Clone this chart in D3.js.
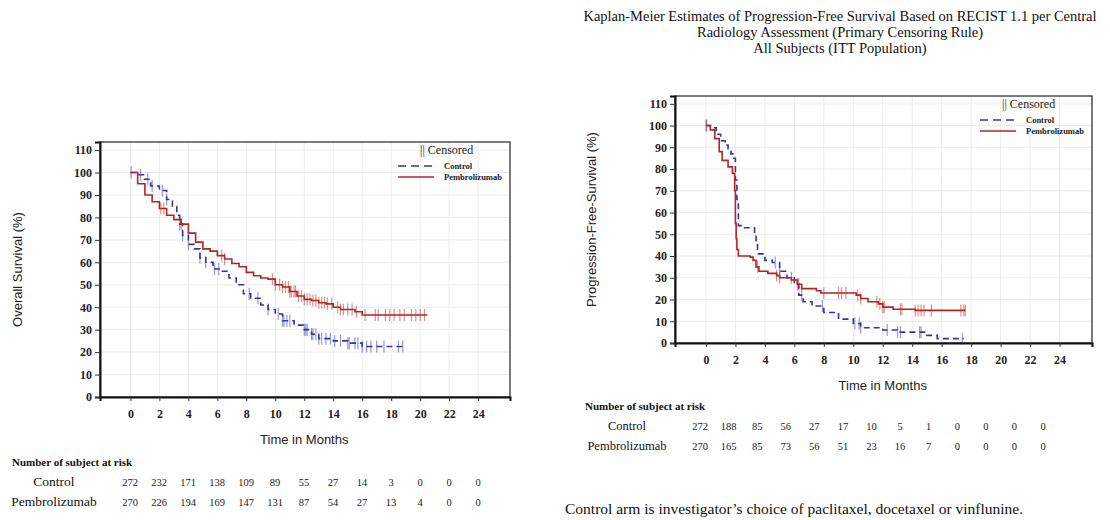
<!DOCTYPE html>
<html>
<head>
<meta charset="utf-8">
<script src="https://cdn.jsdelivr.net/npm/d3@7"></script>
<style>
  body { margin: 0; background: #fff; }
  svg { display: block; }
</style>
</head>
<body>
<div id="chart"></div>
<script>
// month ticks + at-risk labels
const monthTicks = [0, 2, 4, 6, 8, 10, 12, 14, 16, 18, 20, 22, 24];
const survTicks = [0, 10, 20, 30, 40, 50, 60, 70, 80, 90, 100, 110];
const arms = ["Control", "Pembrolizumab"];

// Overall survival (left) - [month, %]
const osControl = [[0,100],[0.4,99],[0.9,97],[1.4,94],[2.0,92],[2.5,88],[2.9,85],[3.2,81],[3.4,77],[3.6,72],[4.0,68],[4.4,66],[4.8,62],[5.2,60],[5.7,57],[6.2,56],[6.8,53],[7.3,50],[7.8,46],[8.3,44],[9.0,41],[9.5,39],[10.0,37],[10.5,34],[11.3,32],[12.0,30],[12.5,28],[13.0,26],[14.0,25],[15.0,24],[16.0,22.5],[18.8,22.5]];
const osPembro = [[0,100],[0.5,95],[1.0,90],[1.5,87],[2.0,84],[2.5,81],[3.0,79],[3.5,77],[4.0,73],[4.5,69],[5.0,66],[5.5,65],[6.0,63],[6.5,61.5],[7.0,59.5],[7.5,58],[8.0,55.5],[8.5,54],[9.0,53],[9.5,52.5],[10.0,50],[10.5,49],[11.0,47],[11.5,45],[12.0,43.5],[12.5,43],[13.0,42],[13.5,41.5],[14.0,40],[14.5,39],[15.5,38],[16.0,36.5],[20.5,36.5]];
const osControlCens = [0.05,0.7,1.2,1.5,2.2,2.5,3.4,3.6,4.0,4.8,5.2,5.8,6.1,8.2,8.8,9.5,10.2,10.5,10.6,10.8,11.0,12.0,12.1,12.2,12.5,12.6,12.8,13.0,13.2,13.5,13.8,14.1,14.5,15.0,15.1,15.5,15.7,16.0,16.3,16.6,17.0,17.5,18.5,18.8];
const osPembroCens = [2.1,2.3,3.5,6.3,6.5,9.8,10.0,10.3,10.5,10.7,10.9,11.0,11.1,11.3,11.4,11.6,11.8,12.0,12.2,12.4,12.6,12.8,13.0,13.2,13.4,13.6,13.9,14.3,14.5,14.7,15.0,15.3,15.6,16.2,16.9,17.1,17.6,17.9,18.2,18.6,18.9,19.4,19.7,20.0,20.3];
const osRiskControl = [272, 232, 171, 138, 109, 89, 55, 27, 14, 3, 0, 0, 0];
const osRiskPembro = [270, 226, 194, 169, 147, 131, 87, 54, 27, 13, 4, 0, 0];

// Progression-free survival (right)
const pfsControl = [[0,100],[0.3,99],[0.7,96],[1.0,93],[1.3,91],[1.5,89],[1.7,87],[1.9,85],[2.0,75],[2.1,66],[2.2,54],[2.5,53],[3.3,50],[3.4,46],[3.5,41],[4.0,38],[4.5,37],[5.0,33],[5.5,30],[6.0,27],[6.3,22],[6.6,19],[7.2,17],[8.0,14],[9.0,11],[10.0,9],[10.5,7],[12.0,6],[13.0,5],[15.0,3.5],[15.7,2],[17.5,2]];
const pfsPembro = [[0,100],[0.3,98],[0.6,94],[0.9,88],[1.1,84],[1.5,81],[1.8,78],[1.95,70],[2.0,55],[2.05,48],[2.1,43],[2.2,40],[3.0,39.5],[3.2,38],[3.4,35],[3.6,33],[4.2,32],[4.8,31],[5.0,30],[5.8,29],[6.2,27],[6.5,25],[7.5,24],[7.8,23],[10.2,22],[10.5,20.5],[11.0,19],[11.7,18],[12.0,16.5],[12.7,15.5],[14.2,15],[17.6,15]];
const pfsControlCens = [0.05,4.7,5.0,5.8,6.5,7.9,10.1,10.4,10.5,12.3,13.0,13.2,14.5,14.6,17.4];
const pfsPembroCens = [0.0,3.5,4.8,5.0,6.2,6.3,8.0,9.0,9.2,9.5,10.3,10.5,11.6,11.8,12.0,12.1,13.2,13.3,14.2,14.4,14.6,14.8,15.3,17.3,17.5,17.6];
const pfsRiskControl = [272, 188, 85, 56, 27, 17, 10, 5, 1, 0, 0, 0, 0];
const pfsRiskPembro = [270, 165, 85, 73, 56, 51, 23, 16, 7, 0, 0, 0, 0];

const titleLines = [
  "Kaplan-Meier Estimates of Progression-Free Survival Based on RECIST 1.1 per Central",
  "Radiology Assessment (Primary Censoring Rule)",
  "All Subjects (ITT Population)"
];
const footnote = "Control arm is investigator\u2019s choice of paclitaxel, docetaxel or vinflunine.";

const blue = "#3434a6";
const red = "#b32424";
const serif = "'Liberation Serif', 'Times New Roman', serif";
const sans = "'Liberation Sans', Arial, sans-serif";

const svg = d3.select("#chart")
  .append("svg")
  .attr("width", 1110)
  .attr("height", 520);

function survAt(points, t) {
  let s = points[0][1];
  for (const p of points) if (p[0] <= t) s = p[1];
  return s;
}

function drawPanel(o) {
  const x = d3.scaleLinear().domain([-2.1, 26.2]).range([o.left, o.right]);
  const y = d3.scaleLinear().domain([0, 113.6]).range([o.bottom, o.top]);
  const g = svg.append("g");

  // grid
  g.selectAll(".gx").data(monthTicks).enter().append("line")
    .attr("x1", d => x(d)).attr("x2", d => x(d))
    .attr("y1", o.top).attr("y2", o.bottom)
    .attr("stroke", "#ececec");
  g.selectAll(".gy").data(survTicks).enter().append("line")
    .attr("x1", o.left).attr("x2", o.right)
    .attr("y1", d => y(d)).attr("y2", d => y(d))
    .attr("stroke", "#ececec");

  // frame
  g.append("rect")
    .attr("x", o.left).attr("y", o.top)
    .attr("width", o.right - o.left).attr("height", o.bottom - o.top)
    .attr("fill", "none").attr("stroke", "#333").attr("stroke-width", 1.3);

  const xAxis = g.append("g")
    .attr("transform", `translate(0,${o.bottom})`)
    .call(d3.axisBottom(x).tickValues(monthTicks).tickSize(4).tickPadding(8));
  const yAxis = g.append("g")
    .attr("transform", `translate(${o.left},0)`)
    .call(d3.axisLeft(y).tickValues(survTicks).tickSize(5).tickPadding(3));
  [xAxis, yAxis].forEach(a => {
    a.select(".domain").attr("stroke", "#111").attr("stroke-width", 2);
    a.selectAll(".tick line").attr("stroke", "#333");
    a.selectAll("text")
      .attr("font-family", serif).attr("font-size", 12)
      .attr("font-weight", "bold").attr("fill", "#222");
  });

  // axis titles
  g.append("text")
    .attr("x", x(12)).attr("y", o.bottom + 47)
    .attr("text-anchor", "middle")
    .attr("font-family", sans).attr("font-size", 13)
    .attr("fill", "#222")
    .text("Time in Months");
  g.append("text")
    .attr("transform", `translate(${o.ytitleX},${(o.top + o.bottom) / 2}) rotate(-90)`)
    .attr("text-anchor", "middle")
    .attr("font-family", sans).attr("font-size", 13)
    .attr("fill", "#222")
    .text(o.ytitle);

  // curves
  const line = d3.line().x(d => x(d[0])).y(d => y(d[1])).curve(d3.curveStepAfter);
  const series = [
    { pts: o.control, cens: o.controlCens, color: blue, dash: "6,4" },
    { pts: o.pembro, cens: o.pembroCens, color: red, dash: null }
  ];
  series.forEach(s => {
    g.append("path")
      .datum(s.pts)
      .attr("d", line)
      .attr("fill", "none")
      .attr("stroke", s.color)
      .attr("stroke-width", 1.6)
      .attr("stroke-dasharray", s.dash);
    g.selectAll(null).data(s.cens).enter().append("line")
      .attr("x1", d => x(d)).attr("x2", d => x(d))
      .attr("y1", d => y(survAt(s.pts, d)) - 6)
      .attr("y2", d => y(survAt(s.pts, d)) + 6)
      .attr("stroke", s.color)
      .attr("stroke-opacity", 0.5)
      .attr("stroke-width", 1.2);
  });

  // legend
  const lx = o.right - 112, ly = o.top + 12;
  g.append("text")
    .attr("x", lx + 22).attr("y", ly)
    .attr("font-family", serif).attr("font-size", 12)
    .attr("fill", "#222")
    .text("|| Censored");
  const legendItems = [
    { name: arms[0], color: blue, dash: "8,5" },
    { name: arms[1], color: red, dash: null }
  ];
  legendItems.forEach((d, i) => {
    const yy = ly + 12 + i * 11;
    g.append("line")
      .attr("x1", lx).attr("x2", lx + 36)
      .attr("y1", yy).attr("y2", yy)
      .attr("stroke", d.color).attr("stroke-width", 1.6)
      .attr("stroke-dasharray", d.dash);
    g.append("text")
      .attr("x", lx + 46).attr("y", yy + 3)
      .attr("font-family", serif).attr("font-size", 8.5)
      .attr("font-weight", "bold").attr("fill", "#222")
      .text(d.name);
  });

  // number at risk
  const rx = d3.scaleLinear().domain([0, 24]).range(o.riskRange);
  g.append("text")
    .attr("x", o.riskX).attr("y", o.riskY)
    .attr("font-family", serif).attr("font-size", 11)
    .attr("font-weight", "bold").attr("fill", "#111")
    .text("Number of subject at risk");
  [o.riskControl, o.riskPembro].forEach((vals, i) => {
    const yy = o.riskY + 20 + i * 20;
    g.append("text")
      .attr("x", o.riskLabelX).attr("y", yy)
      .attr("text-anchor", "middle")
      .attr("font-family", serif).attr("font-size", o.riskLabelSize)
      .attr("fill", "#111")
      .text(arms[i]);
    g.selectAll(null).data(vals).enter().append("text")
      .attr("x", (d, j) => rx(monthTicks[j]))
      .attr("y", yy)
      .attr("text-anchor", "middle")
      .attr("font-family", serif).attr("font-size", 10.5)
      .attr("fill", "#222")
      .text(d => d);
  });
}

drawPanel({
  left: 100, right: 510, top: 142, bottom: 397,
  ytitle: "Overall Survival (%)", ytitleX: 22,
  control: osControl, pembro: osPembro,
  controlCens: osControlCens, pembroCens: osPembroCens,
  riskControl: osRiskControl, riskPembro: osRiskPembro,
  riskX: 12, riskY: 466, riskLabelX: 54, riskLabelSize: 13.5, riskRange: [130, 478]
});

drawPanel({
  left: 675, right: 1092, top: 96, bottom: 343,
  ytitle: "Progression-Free-Survival (%)", ytitleX: 596,
  control: pfsControl, pembro: pfsPembro,
  controlCens: pfsControlCens, pembroCens: pfsPembroCens,
  riskControl: pfsRiskControl, riskPembro: pfsRiskPembro,
  riskX: 585, riskY: 410, riskLabelX: 627, riskLabelSize: 12.5, riskRange: [700, 1043]
});

// right panel title
svg.append("g").selectAll("text").data(titleLines).enter().append("text")
  .attr("x", 840).attr("y", (d, i) => 21 + i * 16)
  .attr("text-anchor", "middle")
  .attr("font-family", serif).attr("font-size", 14.5)
  .attr("fill", "#111")
  .text(d => d);

svg.append("text")
  .attr("x", 565).attr("y", 514)
  .attr("font-family", serif).attr("font-size", 15.5)
  .attr("fill", "#111")
  .text(footnote);
</script>
</body>
</html>
